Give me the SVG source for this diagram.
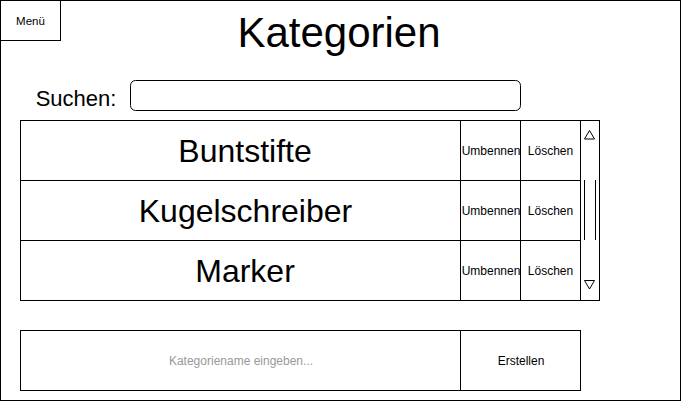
<svg xmlns="http://www.w3.org/2000/svg" width="681" height="401" viewBox="0 0 681 401">
<style>
.box{fill:#fff;stroke:#000;stroke-width:1}
.t{font-family:"Liberation Sans",Arial,sans-serif;fill:#000;text-anchor:middle;dominant-baseline:central}
.s{font-size:12px}
.big{font-size:32px}
</style>
<rect x="0.5" y="0.5" width="680" height="400" class="box"/>
<g id="menu"><rect x="0.5" y="0.5" width="60" height="40" class="box"/><text x="30.5" y="20.5" class="t" style="font-size:11.5px">Menü</text></g>
<g id="title"><text x="339" y="32" class="t" style="font-size:42px">Kategorien</text></g>
<g id="search">
<text x="76" y="98" class="t" style="font-size:22px">Suchen:</text>
<rect x="130.5" y="80.5" width="390" height="30" rx="5" class="box"/>
</g>
<g id="row1">
<rect x="20.5" y="120.5" width="440" height="60" class="box"/><text x="245" y="150.5" class="t big">Buntstifte</text>
<rect x="460.5" y="120.5" width="60" height="60" class="box"/><text x="491" y="150.5" class="t s">Umbennen</text>
<rect x="520.5" y="120.5" width="60" height="60" class="box"/><text x="550.5" y="150.5" class="t s">Löschen</text>
</g>
<g id="row2">
<rect x="20.5" y="180.5" width="440" height="60" class="box"/><text x="245.5" y="210.5" class="t big">Kugelschreiber</text>
<rect x="460.5" y="180.5" width="60" height="60" class="box"/><text x="491" y="210.5" class="t s">Umbennen</text>
<rect x="520.5" y="180.5" width="60" height="60" class="box"/><text x="550.5" y="210.5" class="t s">Löschen</text>
</g>
<g id="row3">
<rect x="20.5" y="240.5" width="440" height="60" class="box"/><text x="245" y="270.5" class="t big">Marker</text>
<rect x="460.5" y="240.5" width="60" height="60" class="box"/><text x="491" y="270.5" class="t s">Umbennen</text>
<rect x="520.5" y="240.5" width="60" height="60" class="box"/><text x="550.5" y="270.5" class="t s">Löschen</text>
</g>
<g id="scrollbar">
<rect x="580.5" y="120.5" width="19" height="180" class="box"/>
<polygon points="589.5,130.5 594.5,139 584.5,139" fill="none" stroke="#000"/>
<polygon points="589.5,289 594.5,280.5 584.5,280.5" fill="none" stroke="#000"/>
<line x1="584.5" y1="180" x2="584.5" y2="240" stroke="#000"/>
<line x1="595.5" y1="180" x2="595.5" y2="240" stroke="#000"/>
</g>
<g id="create">
<rect x="20.5" y="330.5" width="440" height="60" class="box"/><text x="241" y="360.5" class="t s" style="fill:#999">Kategoriename eingeben...</text>
<rect x="460.5" y="330.5" width="120" height="60" class="box"/><text x="521" y="360.5" class="t s">Erstellen</text>
</g>
</svg>
